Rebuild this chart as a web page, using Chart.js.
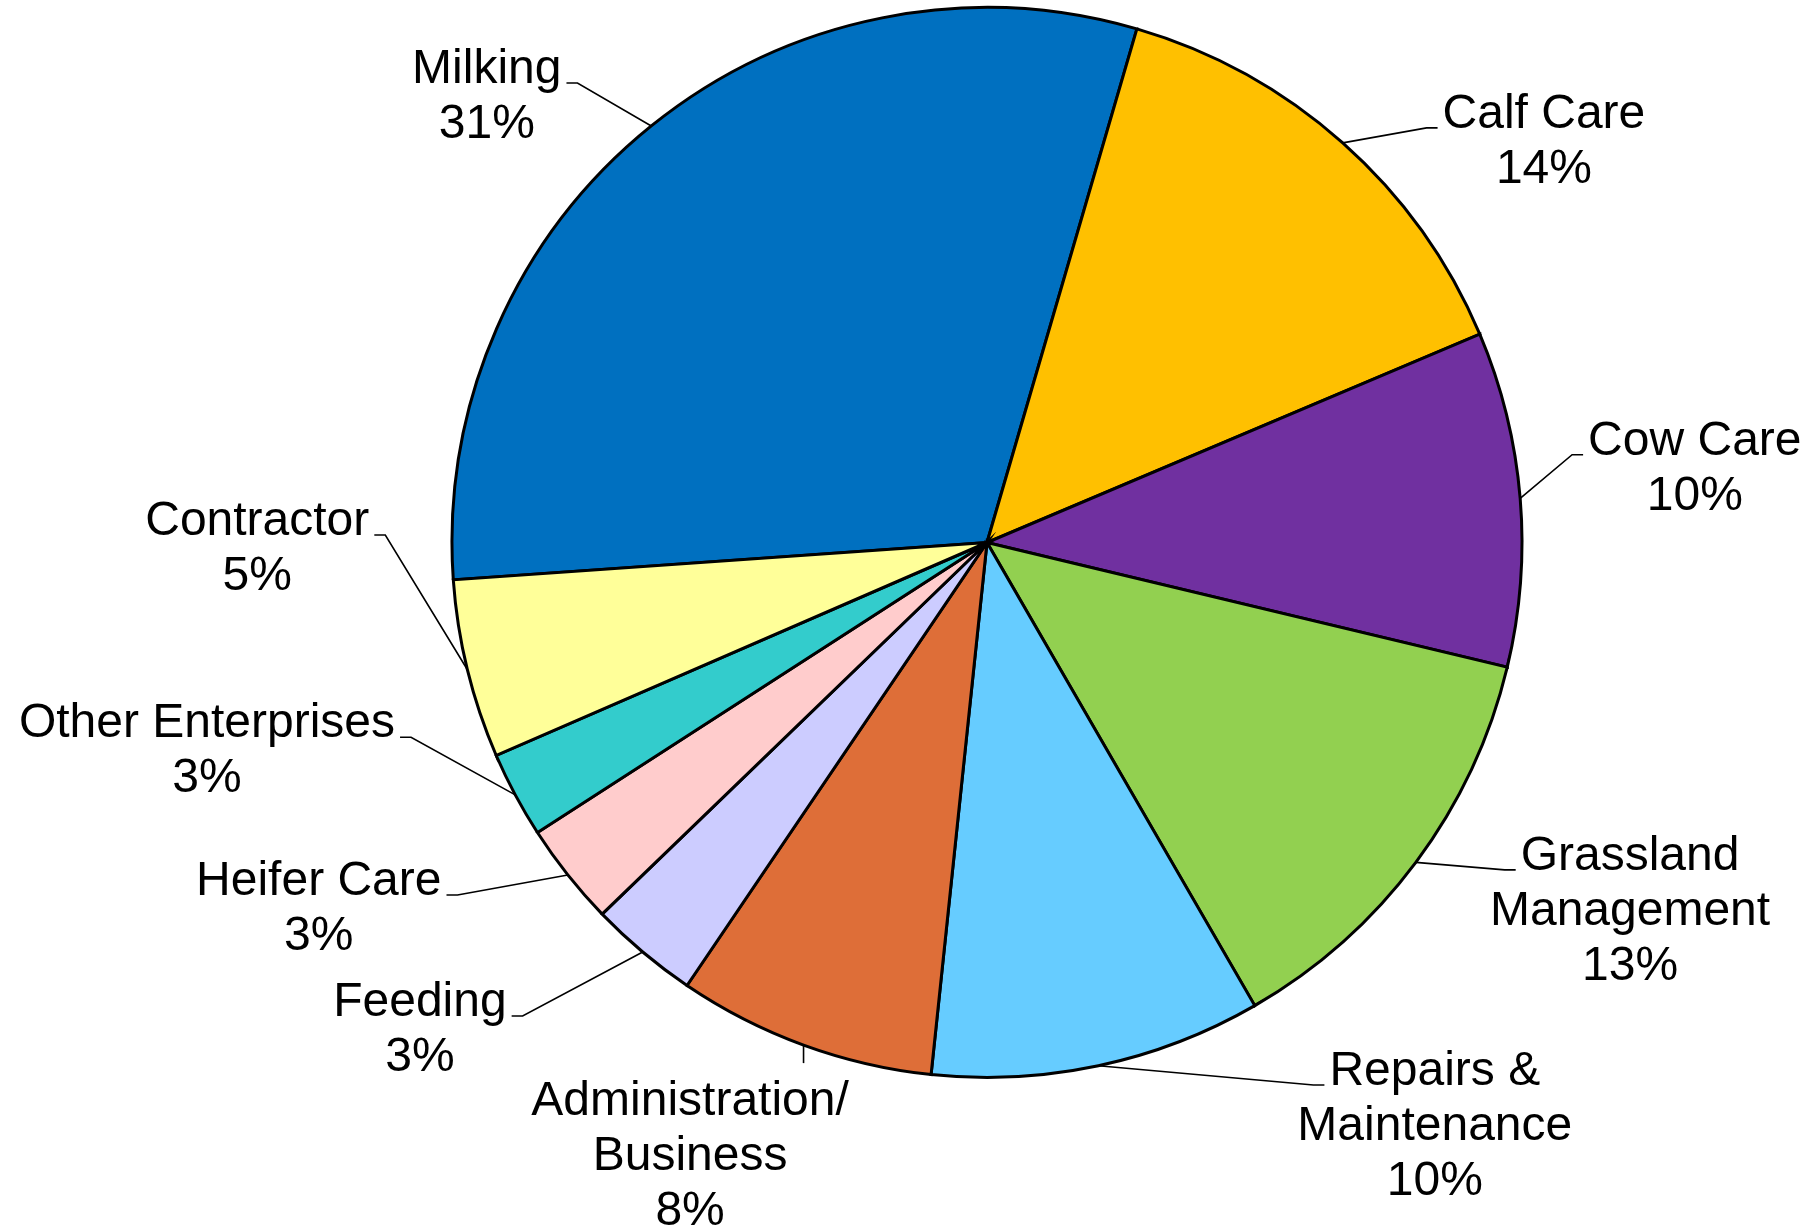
<!DOCTYPE html>
<html><head><meta charset="utf-8">
<script src="https://cdn.jsdelivr.net/npm/chart.js@4.4.0/dist/chart.umd.min.js"></script>
<style>html,body{margin:0;padding:0;background:#fff;overflow:hidden}canvas{display:block}</style>
</head><body>
<canvas id="c" width="1807" height="1229"></canvas>
<script>
// ---- data ----
const categories = [["Milking"], ["Calf Care"], ["Cow Care"], ["Grassland", "Management"], ["Repairs &", "Maintenance"], ["Administration/", "Business"], ["Feeding"], ["Heifer Care"], ["Other Enterprises"], ["Contractor"]];
const shares = [30.6, 14.1, 10.1, 12.9, 10.0, 7.8, 3.3, 3.1, 2.6, 5.4];
const sliceColors = ["#0070C0", "#FFC000", "#7030A0", "#92D050", "#66CCFF", "#DE6E38", "#CCCCFF", "#FFCCCC", "#33CCCC", "#FFFF99"];
// label placement: (label centre x, first baseline) relative to pie centre, in radii
const labelOffsets = [[-0.935, -0.859], [1.041, -0.775], [1.323, -0.164], [1.202, 0.612], [0.837, 1.014], [-0.555, 1.070], [-1.060, 0.885], [-1.249, 0.659], [-1.458, 0.364], [-1.364, -0.014]];

const FONT_SIZE = 48;
const LINE_H = 55;

const labelPlugin = {
  id: 'pieLabels',
  afterDatasetsDraw(chart) {
    const ctx = chart.ctx;
    const meta = chart.getDatasetMeta(0);
    const total = shares.reduce((a, b) => a + b, 0);
    ctx.save();
    ctx.font = FONT_SIZE + 'px "Liberation Sans", Arial, sans-serif';
    ctx.fillStyle = '#000';
    ctx.strokeStyle = '#000';
    ctx.lineWidth = 1.6;
    ctx.textBaseline = 'alphabetic';
    ctx.textAlign = 'center';
    meta.data.forEach((arc, i) => {
      const p = arc.getProps(['x', 'y', 'startAngle', 'endAngle', 'outerRadius'], true);
      const mid = (p.startAngle + p.endAngle) / 2;
      const ex = p.x + Math.cos(mid) * p.outerRadius;
      const ey = p.y + Math.sin(mid) * p.outerRadius;
      const lines = categories[i].concat([Math.round(shares[i] / total * 100) + '%']);
      const cx = p.x + labelOffsets[i][0] * p.outerRadius;
      const b1 = p.y + labelOffsets[i][1] * p.outerRadius;
      const w1 = ctx.measureText(lines[0]).width;
      const left = cx - w1 / 2, right = cx + w1 / 2;
      ctx.beginPath();
      if (ex < left) {
        ctx.moveTo(ex, ey); ctx.lineTo(left - 16, b1); ctx.lineTo(left - 5, b1);
      } else if (ex > right) {
        ctx.moveTo(ex, ey); ctx.lineTo(right + 16, b1); ctx.lineTo(right + 5, b1);
      } else {
        ctx.moveTo(ex, ey); ctx.lineTo(ex, b1 - FONT_SIZE * 1.08);
      }
      ctx.stroke();
      lines.forEach((t, k) => ctx.fillText(t, cx, b1 + k * LINE_H));
    });
    ctx.restore();
  }
};

new Chart(document.getElementById('c'), {
  type: 'pie',
  data: {
    labels: categories.map(c => c.join(' ')),
    datasets: [{
      data: shares,
      backgroundColor: sliceColors,
      borderColor: '#000',
      borderWidth: 3,
      borderJoinStyle: 'miter'
    }]
  },
  options: {
    responsive: false,
    animation: false,
    rotation: 266,
    layout: { padding: { left: 450.5, right: 283.5, top: 6, bottom: 150 } },
    plugins: { legend: { display: false }, tooltip: { enabled: false } }
  },
  plugins: [labelPlugin]
});
</script>
</body></html>
